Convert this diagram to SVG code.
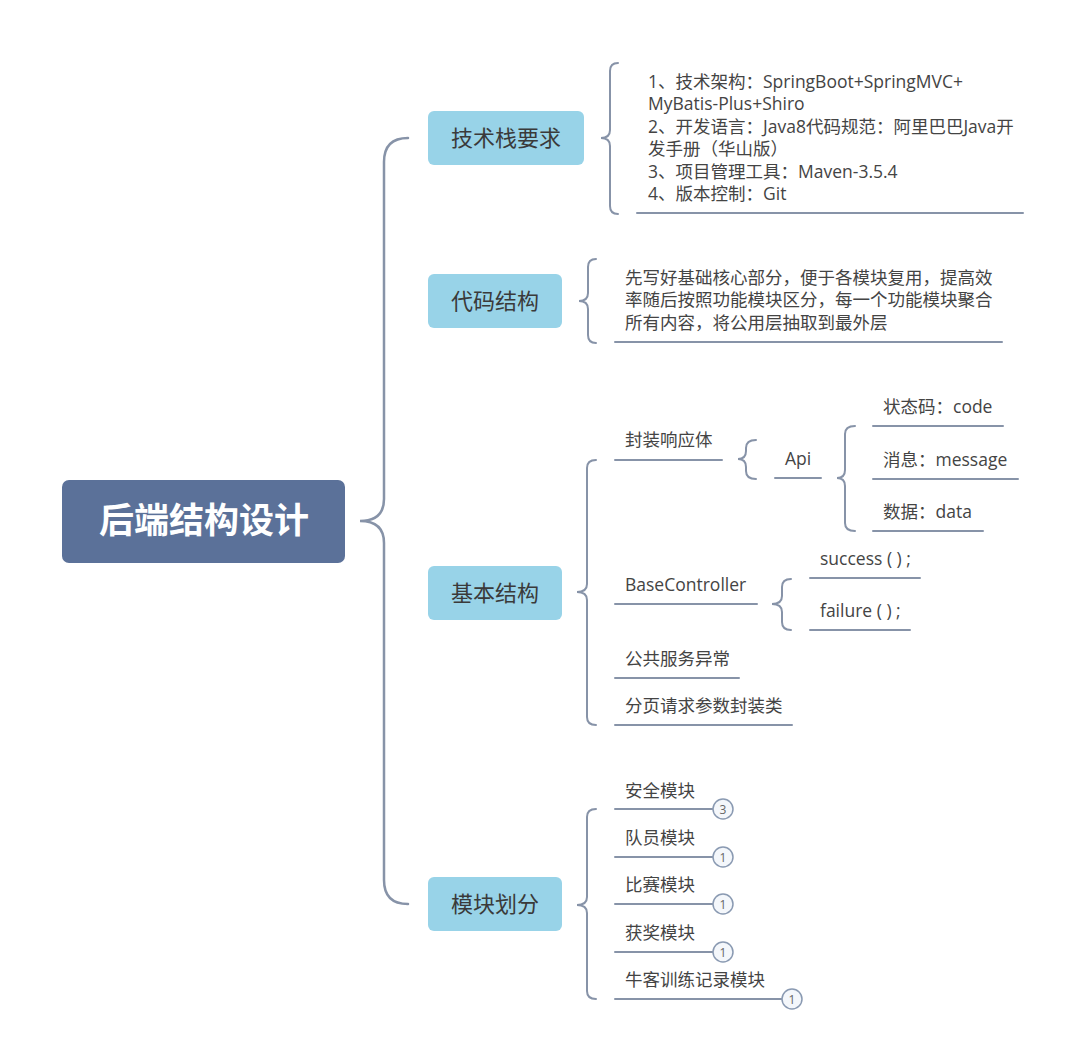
<svg xmlns="http://www.w3.org/2000/svg" width="1086" height="1063" viewBox="0 0 1086 1063">
<style>
.ln{fill:none;stroke:#8793a8;stroke-width:2;stroke-linecap:round}
.main{fill:none;stroke:#8793a8;stroke-width:2.5;stroke-linecap:round}
.t{font-family:"Open Sans","Noto Sans CJK SC",sans-serif;font-size:17.5px;fill:#444444}
.bt{font-family:"Open Sans","Noto Sans CJK SC",sans-serif;font-size:22px;fill:#3a3a3a;text-anchor:middle}
.box{fill:#98d3e8}
.badge{fill:#f4f7fb;stroke:#8a9ab2;stroke-width:1.5}
.bn{font-family:"Open Sans",sans-serif;font-size:12px;fill:#666;text-anchor:middle}
</style>
<rect width="1086" height="1063" fill="#ffffff"/>
<g id="connectors">
<path class="main" d="M408,138 Q384,138 384,162 L384,499 Q384,521 360,521 Q384,521 384,543 L384,880 Q384,904 408,904"/>
<path class="ln" d="M618,63 Q610,63 610,71 L610,130 Q610,138 601,138 Q610,138 610,146 L610,206 Q610,214 618,214"/>
<path class="ln" d="M596,259 Q588,259 588,267 L588,293 Q588,301 579,301 Q588,301 588,309 L588,335 Q588,343 596,343"/>
<path class="ln" d="M596,460 Q587,460 587,468 L587,584 Q587,592 577,592 Q587,592 587,600 L587,717 Q587,725 596,725"/>
<path class="ln" d="M596,809 Q587,809 587,817 L587,897 Q587,905 577,905 Q587,905 587,913 L587,991 Q587,999 596,999"/>
<path class="ln" d="M756,440 Q746,440 746,448 L746,451 Q746,459 738,459 Q746,459 746,467 L746,471 Q746,479 756,479"/>
<path class="ln" d="M855,426 Q845,426 845,434 L845,470 Q845,478 837,478 Q845,478 845,486 L845,523 Q845,531 855,531"/>
<path class="ln" d="M791,579 Q782,579 782,587 L782,596 Q782,604 772,604 Q782,604 782,612 L782,622 Q782,630 791,630"/>
</g>
<g id="root">
<rect x="62" y="480" width="283" height="83" rx="7" fill="#5b7199"/>
<text x="204" y="533" font-family="'Noto Sans CJK SC',sans-serif" font-size="35" font-weight="bold" fill="#ffffff" text-anchor="middle">后端结构设计</text>
</g>
<g id="n-tech">
<rect class="box" x="428" y="111" width="156" height="54" rx="6"/>
<text class="bt" x="506" y="146">技术栈要求</text>
</g>
<g id="n-tech-detail">
<text class="t" x="648" y="88">1、技术架构：SpringBoot+SpringMVC+</text>
<text class="t" x="648" y="110">MyBatis-Plus+Shiro</text>
<text class="t" x="648" y="133">2、开发语言：Java8代码规范：阿里巴巴Java开</text>
<text class="t" x="648" y="155">发手册（华山版）</text>
<text class="t" x="648" y="178">3、项目管理工具：Maven-3.5.4</text>
<text class="t" x="648" y="200">4、版本控制：Git</text>
<line class="ln" x1="637" y1="213" x2="1023" y2="213"/>
</g>
<g id="n-code">
<rect class="box" x="428" y="274" width="134" height="54" rx="6"/>
<text class="bt" x="495" y="309">代码结构</text>
</g>
<g id="n-code-detail">
<text class="t" x="625" y="284">先写好基础核心部分，便于各模块复用，提高效</text>
<text class="t" x="625" y="306">率随后按照功能模块区分，每一个功能模块聚合</text>
<text class="t" x="625" y="329">所有内容，将公用层抽取到最外层</text>
<line class="ln" x1="615" y1="342" x2="1002" y2="342"/>
</g>
<g id="n-basic">
<rect class="box" x="428" y="566" width="134" height="54" rx="6"/>
<text class="bt" x="495" y="601">基本结构</text>
</g>
<g id="n-resp">
<text class="t" x="625" y="446">封装响应体</text>
<line class="ln" x1="615" y1="460" x2="722" y2="460"/>
</g>
<g id="n-api">
<text class="t" x="785" y="465">Api</text>
<line class="ln" x1="775" y1="478" x2="821" y2="478"/>
</g>
<g id="n-code-field">
<text class="t" x="883" y="413">状态码：code</text>
<line class="ln" x1="873" y1="426" x2="1003" y2="426"/>
</g>
<g id="n-msg">
<text class="t" x="883" y="466">消息：message</text>
<line class="ln" x1="873" y1="479" x2="1018" y2="479"/>
</g>
<g id="n-data">
<text class="t" x="883" y="518">数据：data</text>
<line class="ln" x1="873" y1="531" x2="983" y2="531"/>
</g>
<g id="n-basectrl">
<text class="t" x="625" y="591">BaseController</text>
<line class="ln" x1="615" y1="604" x2="757" y2="604"/>
</g>
<g id="n-success">
<text class="t" x="820" y="565">success ( ) ;</text>
<line class="ln" x1="810" y1="578" x2="920" y2="578"/>
</g>
<g id="n-failure">
<text class="t" x="820" y="617">failure ( ) ;</text>
<line class="ln" x1="810" y1="630" x2="910" y2="630"/>
</g>
<g id="n-exc">
<text class="t" x="625" y="665">公共服务异常</text>
<line class="ln" x1="615" y1="678" x2="739" y2="678"/>
</g>
<g id="n-page">
<text class="t" x="625" y="712">分页请求参数封装类</text>
<line class="ln" x1="615" y1="725" x2="792" y2="725"/>
</g>
<g id="n-module">
<rect class="box" x="428" y="877" width="134" height="54" rx="6"/>
<text class="bt" x="495" y="912">模块划分</text>
</g>
<g id="n-sec">
<text class="t" x="625" y="797">安全模块</text>
<line class="ln" x1="615" y1="809" x2="713" y2="809"/>
<circle class="badge" cx="723" cy="809" r="10"/>
<text class="bn" x="723" y="813.5">3</text>
</g>
<g id="n-member">
<text class="t" x="625" y="844">队员模块</text>
<line class="ln" x1="615" y1="857" x2="713" y2="857"/>
<circle class="badge" cx="723" cy="857" r="10"/>
<text class="bn" x="723" y="861.5">1</text>
</g>
<g id="n-match">
<text class="t" x="625" y="891">比赛模块</text>
<line class="ln" x1="615" y1="904" x2="713" y2="904"/>
<circle class="badge" cx="723" cy="904" r="10"/>
<text class="bn" x="723" y="908.5">1</text>
</g>
<g id="n-award">
<text class="t" x="625" y="939">获奖模块</text>
<line class="ln" x1="615" y1="952" x2="713" y2="952"/>
<circle class="badge" cx="723" cy="952" r="10"/>
<text class="bn" x="723" y="956.5">1</text>
</g>
<g id="n-nowcoder">
<text class="t" x="625" y="986">牛客训练记录模块</text>
<line class="ln" x1="615" y1="999" x2="782" y2="999"/>
<circle class="badge" cx="792" cy="999" r="10"/>
<text class="bn" x="792" y="1003.5">1</text>
</g>
</svg>
